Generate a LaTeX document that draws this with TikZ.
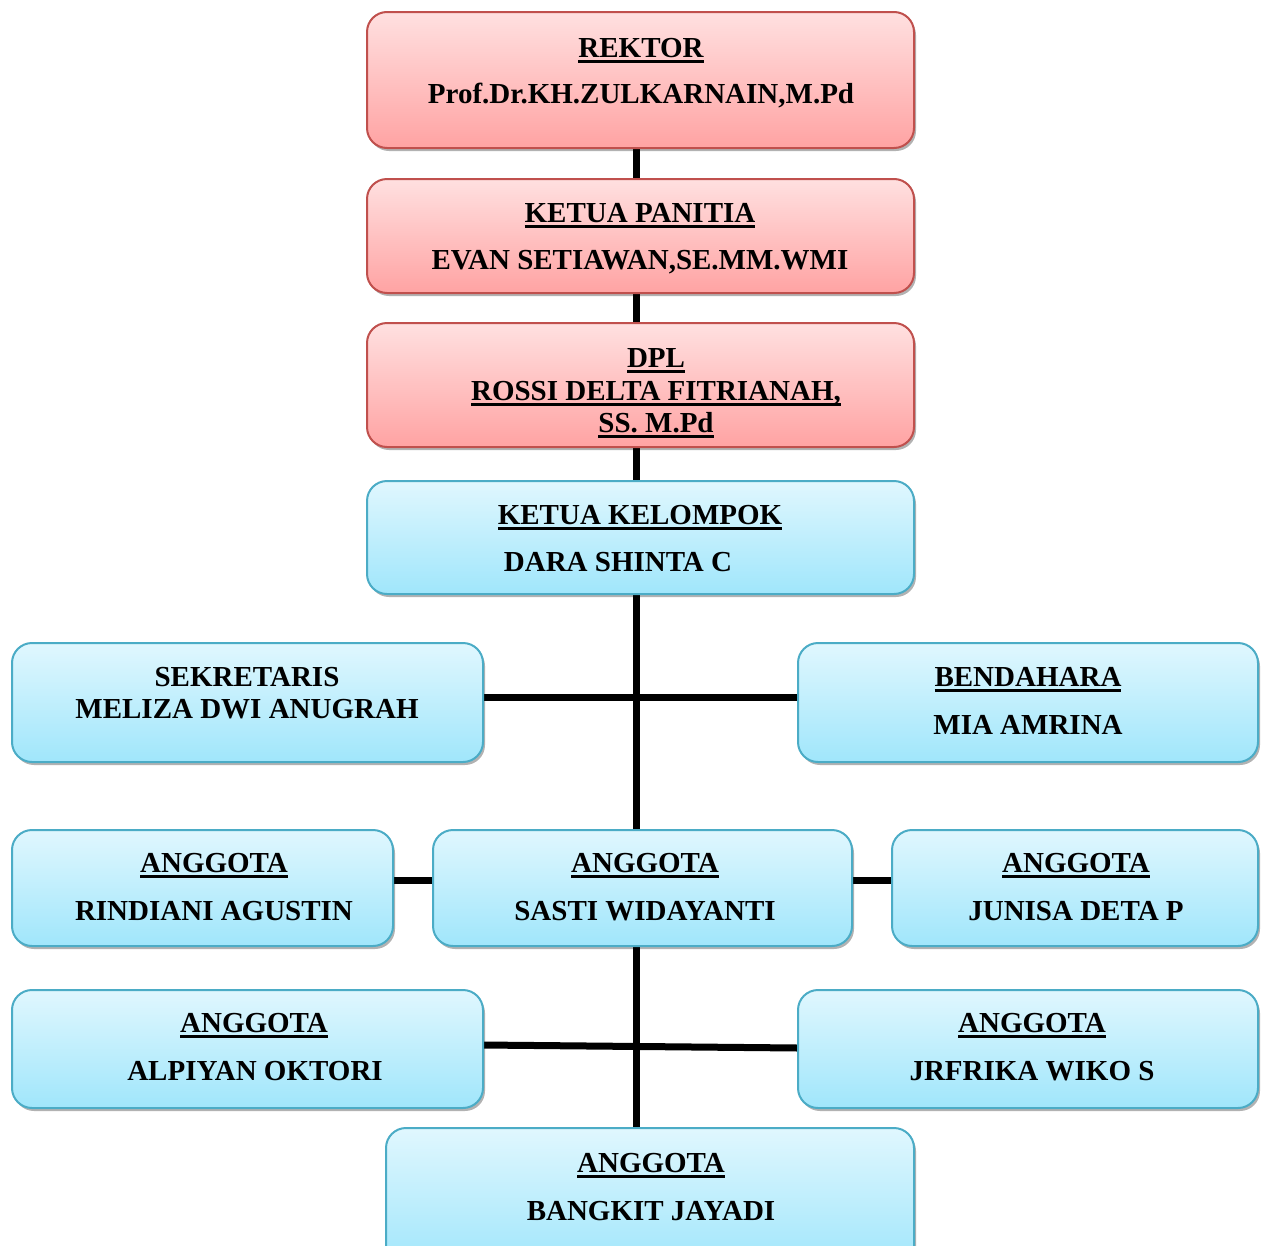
\documentclass[tikz,border=0pt]{standalone}
\usepackage{fontspec}
\setmainfont{Liberation Serif}
\usetikzlibrary{shadows,backgrounds}
\definecolor{redtop}{RGB}{255,224,224}
\definecolor{redbot}{RGB}{255,163,163}
\definecolor{redline}{RGB}{192,80,77}
\definecolor{bluetop}{RGB}{224,247,254}
\definecolor{bluebot}{RGB}{160,230,251}
\definecolor{blueline}{RGB}{75,172,198}
\newcommand{\myul}[1]{\setbox0\hbox{#1}\rlap{\rule[-6pt]{\wd0}{3pt}}\box0}
\newcommand{\boxat}[6]{\node[#1, minimum width={(#5)-(#3)}, minimum height={(#6)-(#4)}] (#2) at ({((#3)+(#5))/2},{((#4)+(#6))/2}) {};}
\newcommand{\tline}[4]{\node[lbl] (#1) at (#2,{(#3)+10}) {#4};}
\tikzset{
  boxbase/.style={rounded corners=20pt, line width=2pt, inner sep=0pt, outer sep=0pt,
    drop shadow={shadow xshift=2pt, shadow yshift=-3pt, opacity=0.3, fill=black}},
  redbox/.style={boxbase, draw=redline, top color=redtop, bottom color=redbot},
  bluebox/.style={boxbase, draw=blueline, top color=bluetop, bottom color=bluebot},
  lbl/.style={anchor=base, inner sep=0pt, font=\fontsize{29}{34}\selectfont\bfseries},
  conn/.style={line width=7pt, black}
}
\begin{document}
\begin{tikzpicture}[x=1pt,y=-1pt]
\clip (0,0) rectangle (1263,1245);
\boxat{redbox}{rek}{367}{12}{914}{148}
\boxat{redbox}{kp}{367}{179}{914}{293}
\boxat{redbox}{dpl}{367}{323}{914}{447}
\boxat{bluebox}{kk}{367}{481}{914}{594}
\boxat{bluebox}{sek}{12}{643}{483}{762}
\boxat{bluebox}{ben}{798}{643}{1258}{762}
\boxat{bluebox}{a1}{12}{830}{393}{946}
\boxat{bluebox}{a2}{433}{830}{852}{946}
\boxat{bluebox}{a3}{892}{830}{1258}{946}
\boxat{bluebox}{a4}{12}{990}{483}{1108}
\boxat{bluebox}{a5}{798}{990}{1258}{1108}
\boxat{bluebox}{a6}{386}{1128}{914}{1268}
\coordinate (vx) at (636,0);
\begin{pgfonlayer}{background}
\fill[white] (0,0) rectangle (1263,1245);
\draw[conn] (rek.south -| vx) -- (kp.north -| vx);
\draw[conn] (kp.south -| vx) -- (dpl.north -| vx);
\draw[conn] (dpl.south -| vx) -- (kk.north -| vx);
\draw[conn] (kk.south -| vx) -- (a2.north -| vx);
\draw[conn] (a2.south -| vx) -- (a6.north -| vx);
\draw[conn] (sek.east |- 0,697) -- (ben.west |- 0,697);
\draw[conn] (a1.east |- 0,880) -- (a2.west |- 0,880);
\draw[conn] (a2.east |- 0,880) -- (a3.west |- 0,880);
\draw[conn] (a4.east |- 0,1045) -- (a5.west |- 0,1048);
\end{pgfonlayer}
\tline{t1}{641}{47}{\myul{REKTOR}}
\tline{t2}{641}{93}{Prof.Dr.KH.ZULKARNAIN,M.Pd}
\tline{t3}{640}{212}{\myul{KETUA PANITIA}}
\tline{t4}{640}{259}{EVAN SETIAWAN,SE.MM.WMI}
\tline{t5}{656}{357}{\myul{DPL}}
\tline{t6}{656}{390}{\myul{ROSSI DELTA FITRIANAH,}}
\tline{t7}{656}{422}{\myul{SS. M.Pd}}
\tline{t8}{640}{514}{\myul{KETUA KELOMPOK}}
\tline{t9}{618}{561}{DARA SHINTA C}
\tline{t10}{247}{676}{SEKRETARIS}
\tline{t11}{247}{708}{MELIZA DWI ANUGRAH}
\tline{t12}{1028}{676}{\myul{BENDAHARA}}
\tline{t13}{1028}{724}{MIA AMRINA}
\tline{t14}{214}{862}{\myul{ANGGOTA}}
\tline{t15}{214}{910}{RINDIANI AGUSTIN}
\tline{t16}{645}{862}{\myul{ANGGOTA}}
\tline{t17}{645}{910}{SASTI WIDAYANTI}
\tline{t18}{1076}{862}{\myul{ANGGOTA}}
\tline{t19}{1076}{910}{JUNISA DETA P}
\tline{t20}{254}{1022}{\myul{ANGGOTA}}
\tline{t21}{255}{1070}{ALPIYAN OKTORI}
\tline{t22}{1032}{1022}{\myul{ANGGOTA}}
\tline{t23}{1032}{1070}{JRFRIKA WIKO S}
\tline{t24}{651}{1162}{\myul{ANGGOTA}}
\tline{t25}{651}{1210}{BANGKIT JAYADI}
\end{tikzpicture}
\end{document}
